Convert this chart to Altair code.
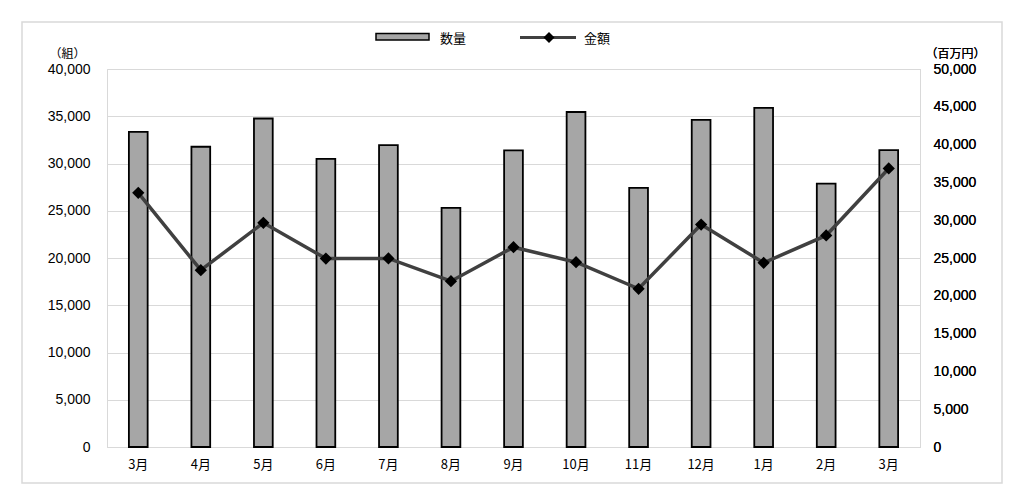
import altair as alt
import pandas as pd

months = ["3月", "4月", "5月", "6月", "7月", "8月", "9月", "10月", "11月", "12月", "1月", "2月", "3月"]
quantity = [33350, 31770, 34760, 30500, 31940, 25310, 31380, 35450, 27430, 34620, 35890, 27880, 31410]
amount = [33620, 23390, 29660, 24930, 24950, 21930, 26430, 24440, 20930, 29430, 24370, 27980, 36840]

df = pd.DataFrame({"idx": list(range(len(months))), "month": months,
                   "quantity": quantity, "amount": amount})

FONT = "Liberation Sans, Noto Sans CJK JP, sans-serif"
XFONT = "Noto Sans CJK JP, sans-serif"
label_expr = "[" + ",".join("'%s'" % m for m in months) + "][datum.value]"

x_enc = alt.X("idx:O", title=None,
              scale=alt.Scale(paddingInner=0.7, paddingOuter=0.35),
              axis=alt.Axis(labelExpr=label_expr, labelAngle=0, labelFontSize=13,
                            labelFont=XFONT, labelColor="#000000", ticks=False, tickSize=0,
                            labelPadding=11, domainColor="#d9d9d9", grid=False))

base = alt.Chart(df)

bars = base.mark_bar(fill="#a6a6a6", stroke="#000000", strokeWidth=1.8).encode(
    x=x_enc,
    y=alt.Y("quantity:Q", title="（組）",
            scale=alt.Scale(domain=[0, 40000]),
            axis=alt.Axis(values=list(range(0, 40001, 5000)), format=",d",
                          labelFontSize=14, labelFont=FONT, labelColor="#000000",
                          ticks=False, tickSize=0, labelPadding=17,
                          domainColor="#d9d9d9", gridColor="#d9d9d9", grid=True,
                          titleAngle=0, titleX=-40, titleY=-16, titleAlign="center",
                          titleBaseline="middle", titleFontSize=12, titleFontWeight="normal",
                          titleFont=XFONT, titleColor="#000000"))
)

right_y = alt.Y("amount:Q", title="（百万円）",
                scale=alt.Scale(domain=[0, 50000]),
                axis=alt.Axis(orient="right", values=list(range(0, 50001, 5000)), format=",d",
                              labelFontSize=14, labelFont=FONT, labelColor="#000000",
                              ticks=False, tickSize=0, labelPadding=13, grid=False,
                              domainColor="#d9d9d9",
                              titleAngle=0, titleX=35, titleY=-16, titleAlign="center",
                              titleBaseline="middle", titleFontSize=12, titleFontWeight="normal",
                              titleFont=XFONT, titleColor="#000000"))

line = base.mark_line(color="#404040", strokeWidth=3.5).encode(x=x_enc, y=right_y)
points = base.mark_point(shape="diamond", filled=True, color="#000000", size=150, opacity=1).encode(
    x=x_enc, y=right_y)

one = pd.DataFrame({"k": [0]})
lg = alt.Chart(one)
leg_rect = lg.mark_rect(fill="#a6a6a6", stroke="#000000", strokeWidth=1.5).encode(
    x=alt.value(269), x2=alt.value(322), y=alt.value(-35.5), y2=alt.value(-29))
leg_rule = lg.mark_rule(color="#404040", strokeWidth=3).encode(
    x=alt.value(413), x2=alt.value(469), y=alt.value(-31.5))
leg_pt = lg.mark_point(shape="diamond", filled=True, color="#000000", size=120, opacity=1).encode(
    x=alt.value(442), y=alt.value(-31.5))
leg_t1 = lg.mark_text(text="数量", align="left", baseline="middle", fontSize=13,
                      font=XFONT, color="#000000").encode(x=alt.value(333), y=alt.value(-30))
leg_t2 = lg.mark_text(text="金額", align="left", baseline="middle", fontSize=13,
                      font=XFONT, color="#000000").encode(x=alt.value(477), y=alt.value(-30))
border = lg.mark_rect(fill=None, stroke="#d9d9d9", strokeWidth=1.5).encode(
    x=alt.value(-85), x2=alt.value(895), y=alt.value(-47), y2=alt.value(414))

chart = alt.layer(
    border, bars, line, points, leg_rect, leg_rule, leg_pt, leg_t1, leg_t2
).resolve_scale(y="independent").properties(
    width=813, height=378,
    autosize=alt.AutoSizeParams(type="none"),
    padding={"left": 99, "top": 61, "right": 96, "bottom": 44},
).configure_view(stroke=None).configure(background="#ffffff")

chart.save("out.html", embed_options={"renderer": "svg", "actions": False})
